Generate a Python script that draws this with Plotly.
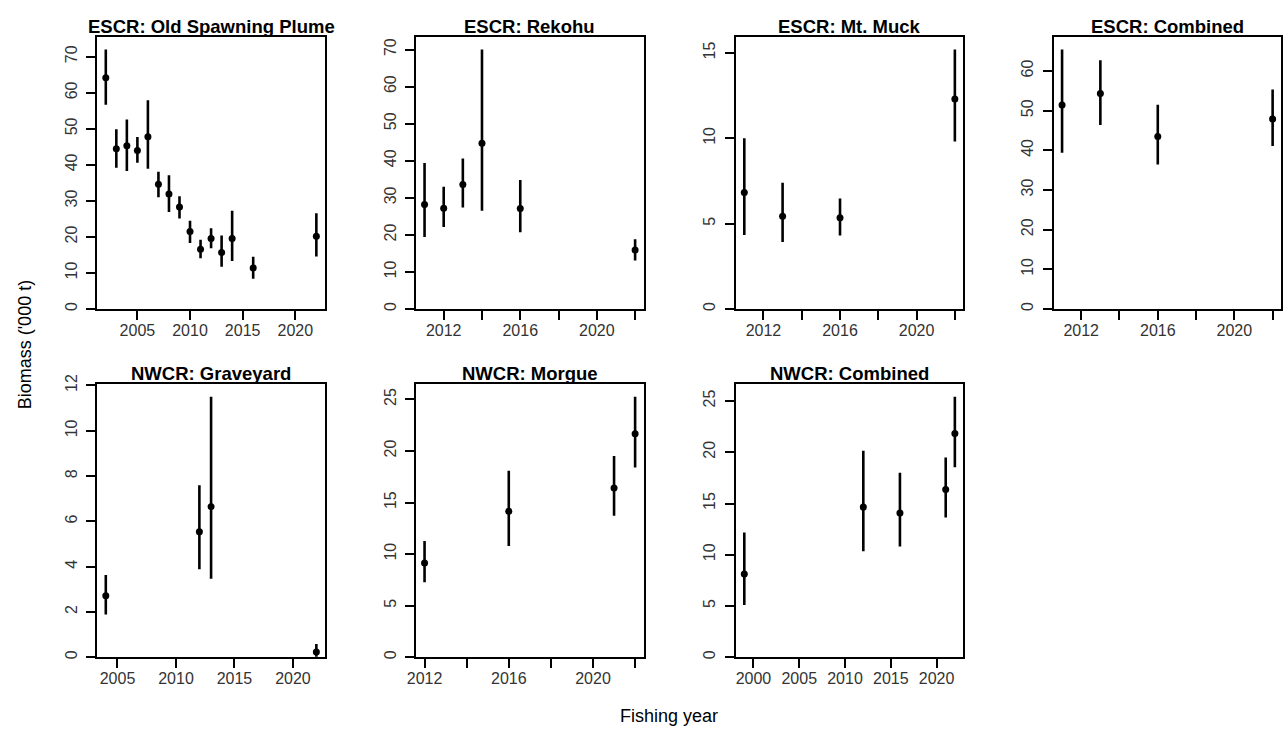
import plotly.graph_objects as go

# ---------------- data ----------------
titles = ["ESCR: Old Spawning Plume", "ESCR: Rekohu", "ESCR: Mt. Muck", "ESCR: Combined",
          "NWCR: Graveyard", "NWCR: Morgue", "NWCR: Combined"]

osp_year = [2002, 2003, 2004, 2005, 2006, 2007, 2008, 2009, 2010, 2011, 2012, 2013, 2014, 2016, 2022]
osp_est = [64.2, 44.5, 45.3, 44.0, 47.8, 34.6, 31.9, 28.3, 21.5, 16.6, 19.6, 15.7, 19.6, 11.4, 20.2]
osp_lo = [56.7, 39.2, 38.3, 40.6, 38.9, 31.0, 26.9, 25.1, 18.3, 14.1, 16.9, 11.7, 13.3, 8.4, 14.6]
osp_hi = [72.0, 49.9, 52.6, 47.7, 57.9, 38.1, 37.1, 31.3, 24.5, 19.2, 22.4, 20.4, 27.3, 14.5, 26.6]

rek_year = [2011, 2012, 2013, 2014, 2016, 2022]
rek_est = [28.2, 27.2, 33.6, 44.7, 27.1, 15.9]
rek_lo = [19.4, 22.1, 27.4, 26.5, 20.7, 13.1]
rek_hi = [39.4, 33.0, 40.6, 70.0, 34.8, 18.8]

muck_year = [2011, 2013, 2016, 2022]
muck_est = [6.82, 5.44, 5.34, 12.3]
muck_lo = [4.33, 3.93, 4.31, 9.82]
muck_hi = [10.0, 7.39, 6.47, 15.2]

escr_year = [2011, 2013, 2016, 2022]
escr_est = [51.4, 54.3, 43.5, 47.9]
escr_lo = [39.4, 46.4, 36.4, 41.1]
escr_hi = [65.4, 62.7, 51.5, 55.3]

grave_year = [2004, 2012, 2013, 2022]
grave_est = [2.72, 5.54, 6.65, 0.23]
grave_lo = [1.89, 3.89, 3.47, 0.02]
grave_hi = [3.63, 7.60, 11.5, 0.59]

morgue_year = [2012, 2016, 2021, 2022]
morgue_est = [9.14, 14.15, 16.40, 21.67]
morgue_lo = [7.27, 10.79, 13.71, 18.4]
morgue_hi = [11.26, 18.08, 19.51, 25.25]

nwcr_year = [1999, 2012, 2016, 2021, 2022]
nwcr_est = [8.12, 14.65, 14.08, 16.37, 21.82]
nwcr_lo = [5.10, 10.35, 10.80, 13.63, 18.54]
nwcr_hi = [12.17, 20.16, 17.99, 19.49, 25.41]

x_ticks = [
    [2005, 2010, 2015, 2020],
    [2012, 2014, 2016, 2018, 2020, 2022],
    [2012, 2014, 2016, 2018, 2020, 2022],
    [2012, 2014, 2016, 2018, 2020, 2022],
    [2005, 2010, 2015, 2020],
    [2012, 2014, 2016, 2018, 2020, 2022],
    [2000, 2005, 2010, 2015, 2020],
]
x_ticktext = [
    ["2005", "2010", "2015", "2020"],
    ["2012", "", "2016", "", "2020", ""],
    ["2012", "", "2016", "", "2020", ""],
    ["2012", "", "2016", "", "2020", ""],
    ["2005", "2010", "2015", "2020"],
    ["2012", "", "2016", "", "2020", ""],
    ["2000", "2005", "2010", "2015", "2020"],
]
y_ticks = [
    [0, 10, 20, 30, 40, 50, 60, 70],
    [0, 10, 20, 30, 40, 50, 60, 70],
    [0, 5, 10, 15],
    [0, 10, 20, 30, 40, 50, 60],
    [0, 2, 4, 6, 8, 10, 12],
    [0, 5, 10, 15, 20, 25],
    [0, 5, 10, 15, 20, 25],
]

series = [
    (osp_year, osp_est, osp_lo, osp_hi),
    (rek_year, rek_est, rek_lo, rek_hi),
    (muck_year, muck_est, muck_lo, muck_hi),
    (escr_year, escr_est, escr_lo, escr_hi),
    (grave_year, grave_est, grave_lo, grave_hi),
    (morgue_year, morgue_est, morgue_lo, morgue_hi),
    (nwcr_year, nwcr_est, nwcr_lo, nwcr_hi),
]

# ---------------- layout geometry (pixels) ----------------
W, H = 1288, 735
cols = [(89, 318), (410, 639), (732, 961), (1052, 1281)]
rows = [(27, 304), (380, 658)]
FONT = "Liberation Sans, Arial, sans-serif"


def px(x):
    return x / W


def py(y):
    return 1 - y / H


fig = go.Figure()
annotations = []
layout_axes = {}

for i, (yrs, est, lo, hi) in enumerate(series):
    r, c = divmod(i, 4)
    x0, x1 = cols[c]
    yt, yb = rows[r]
    n = i + 1
    xa = "x" if n == 1 else f"x{n}"
    ya = "y" if n == 1 else f"y{n}"

    fig.add_trace(go.Scatter(
        x=yrs, y=est, mode="markers", xaxis=xa, yaxis=ya,
        marker=dict(color="black", size=7, symbol="circle"),
        error_y=dict(type="data", symmetric=False,
                     array=[h - e for h, e in zip(hi, est)],
                     arrayminus=[e - l for e, l in zip(est, lo)],
                     color="black", thickness=2.6, width=0),
        showlegend=False, cliponaxis=False, hoverinfo="skip",
    ))

    span = max(yrs) - min(yrs)
    xr = [min(yrs) - 0.04 * span, max(yrs) + 0.04 * span]
    yr = [0, 1.05 * max(hi)]

    axis_common = dict(
        showline=True, linecolor="black", linewidth=2, mirror=True,
        ticks="outside", ticklen=9, tickwidth=2, tickcolor="black",
        showgrid=False, zeroline=False,
        tickfont=dict(family=FONT, size=16, color="#333333"),
    )
    layout_axes["xaxis" if n == 1 else f"xaxis{n}"] = dict(
        domain=[px(x0), px(x1)], anchor=ya, range=xr,
        tickmode="array", tickvals=x_ticks[i], ticktext=x_ticktext[i],
        ticklabelstandoff=-3, **axis_common)
    layout_axes["yaxis" if n == 1 else f"yaxis{n}"] = dict(
        domain=[py(yb), py(yt)], anchor=xa, range=yr,
        tickmode="array", tickvals=y_ticks[i], tickangle=-90,
        ticklabelstandoff=3, **axis_common)

    annotations.append(dict(
        text=f"<b>{titles[i]}</b>", xref="paper", yref="paper",
        x=px((x0 + x1) / 2), y=py(yt), xanchor="center", yanchor="bottom",
        yshift=-2, showarrow=False,
        font=dict(family=FONT, size=18.5, color="black"),
    ))

annotations.append(dict(
    text="Biomass ('000 t)", xref="paper", yref="paper",
    x=px(17), y=py(340), xanchor="center", yanchor="middle",
    textangle=-90, showarrow=False,
    font=dict(family=FONT, size=18, color="black"),
))
annotations.append(dict(
    text="Fishing year", xref="paper", yref="paper",
    x=px(665), y=py(718), xanchor="center", yanchor="middle",
    showarrow=False,
    font=dict(family=FONT, size=18, color="black"),
))

fig.update_layout(
    width=W, height=H, autosize=False,
    margin=dict(l=0, r=0, t=0, b=0),
    paper_bgcolor="white", plot_bgcolor="white",
    annotations=annotations,
    hovermode=False,
    **layout_axes,
)

# remove the browser's default 8px body margin so the figure fills the window
fig.write_html("out.html",
               config={"displayModeBar": False, "staticPlot": True},
               post_script="document.body.style.margin='0px';document.body.style.overflow='hidden';")
